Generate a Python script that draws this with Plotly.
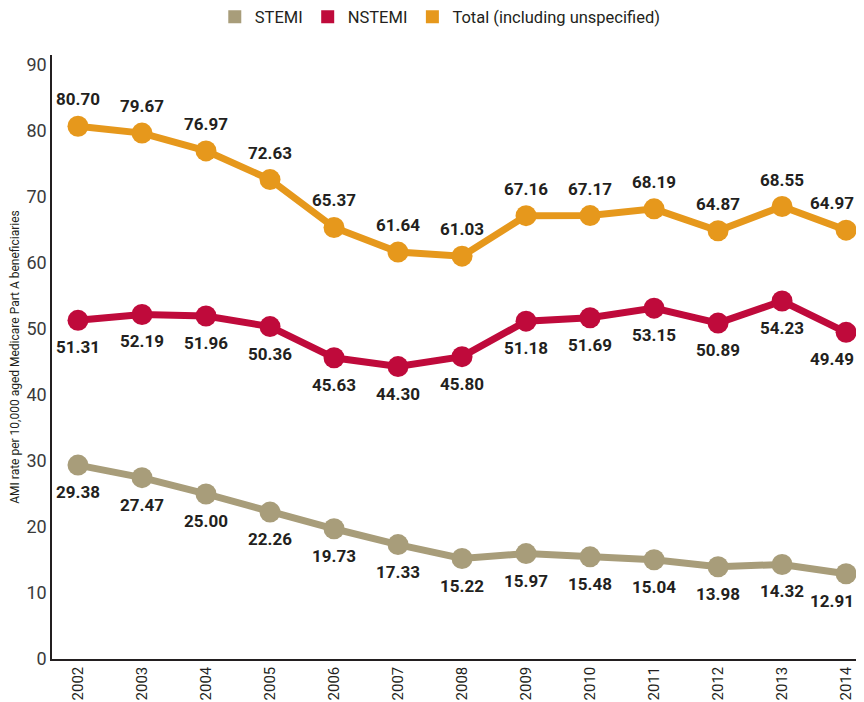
import plotly.graph_objects as go

years = [2002, 2003, 2004, 2005, 2006, 2007, 2008, 2009, 2010, 2011, 2012, 2013, 2014]
stemi = [29.38, 27.47, 25.00, 22.26, 19.73, 17.33, 15.22, 15.97, 15.48, 15.04, 13.98, 14.32, 12.91]
nstemi = [51.31, 52.19, 51.96, 50.36, 45.63, 44.30, 45.80, 51.18, 51.69, 53.15, 50.89, 54.23, 49.49]
total = [80.70, 79.67, 76.97, 72.63, 65.37, 61.64, 61.03, 67.16, 67.17, 68.19, 64.87, 68.55, 64.97]

series_names = ["STEMI", "NSTEMI", "Total (including unspecified)"]
colors = ["#a89d7a", "#bf0a3b", "#e6981c"]
FONT = "Roboto, Lato, sans-serif"
TXT = "#231f20"

fig = go.Figure()

def add_series(vals, color, above):
    fig.add_trace(go.Scatter(
        x=years, y=vals, mode="lines+markers",
        line=dict(color=color, width=7),
        marker=dict(color=color, size=21),
        showlegend=False, hoverinfo="x+y", cliponaxis=False,
    ))
    n = len(vals)
    for i, (yr, v) in enumerate(zip(years, vals)):
        fig.add_annotation(
            x=yr, y=v, text=f"{v:.2f}", showarrow=False,
            yshift=27 if above else -27,
            xshift=-14 if i == n - 1 else 0,
            font=dict(family=FONT, size=17, color=TXT, weight="bold"),
        )

add_series(stemi, colors[0], False)
add_series(nstemi, colors[1], False)
add_series(total, colors[2], True)

for name, c in zip(series_names, colors):
    fig.add_trace(go.Scatter(
        x=[None], y=[None], mode="markers", name=name,
        marker=dict(color=c, size=13, symbol="square"),
        showlegend=True,
    ))

fig.update_layout(
    width=856, height=694,
    margin=dict(l=44, r=0, t=47, b=43, autoexpand=False),
    paper_bgcolor="white", plot_bgcolor="white",
    font=dict(family=FONT, size=17, color=TXT),
    legend=dict(orientation="h", xref="container", yref="container",
                x=0.505, xanchor="center", y=0.987, yanchor="middle",
                font=dict(family=FONT, size=16.5, color=TXT), itemwidth=30,
                traceorder="normal"),
    xaxis=dict(range=[2001.594, 2014.28], tickvals=years, ticktext=[str(y) for y in years],
               tickangle=-90, showgrid=False, zeroline=False, showline=True,
               linecolor="#231f20", linewidth=1.5, ticks="", automargin=False,
               tickfont=dict(family=FONT, size=15, color=TXT)),
    yaxis=dict(range=[0, 91.5], tickvals=list(range(0, 91, 10)), showgrid=False,
               zeroline=False, showline=True, linecolor="#231f20", linewidth=1.5,
               ticks="", automargin=False, tickfont=dict(family=FONT, size=18, color="#3a3a3a"),
               title=dict(text="AMI rate per 10,000 aged Medicare Part A beneficiaries",
                          font=dict(family=FONT, size=12, color=TXT), standoff=6)),
)

fig.write_html("out.html")
